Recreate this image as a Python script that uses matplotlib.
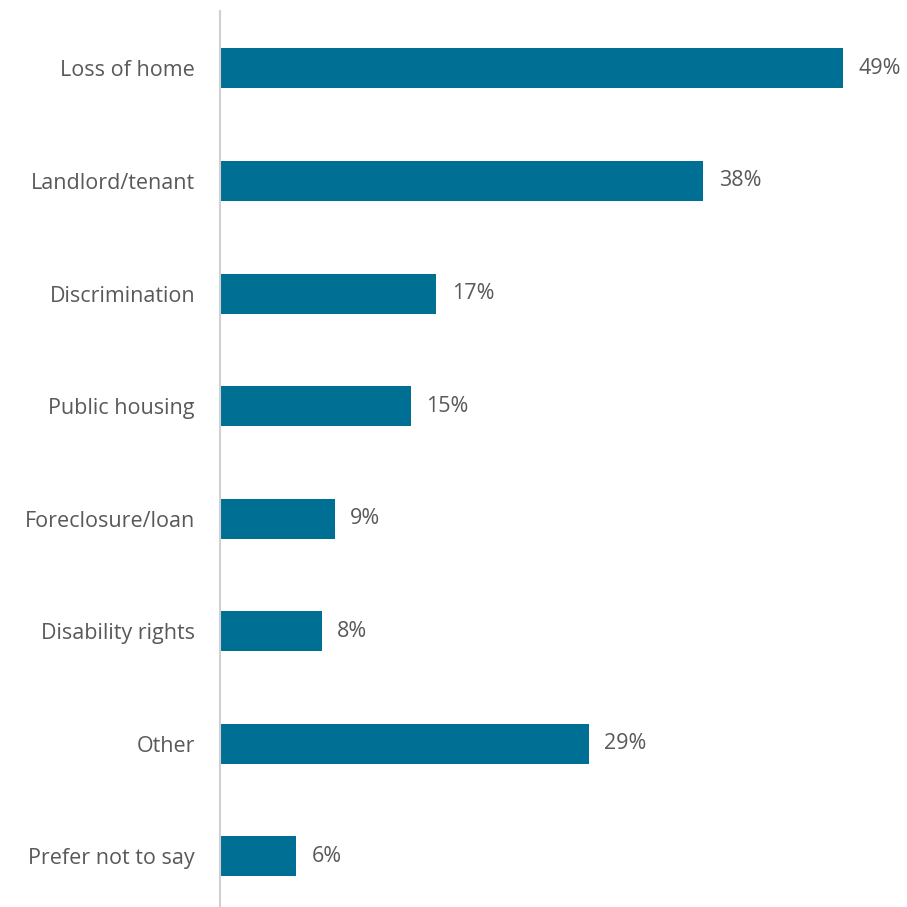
import matplotlib
matplotlib.use("Agg")
import matplotlib.pyplot as plt

categories = ["Loss of home", "Landlord/tenant", "Discrimination", "Public housing",
              "Foreclosure/loan", "Disability rights", "Other", "Prefer not to say"]
values = [49, 38, 17, 15, 9, 8, 29, 6]

plt.rcParams['font.family'] = ['Open Sans', 'DejaVu Sans']
text_color = '#595959'
bar_color = '#006f94'

fig = plt.figure(figsize=(9.07, 9.07), dpi=100)
ax = fig.add_axes([220/907, 0, 1 - 220/907, (907 - 11)/907])

pos = list(range(len(categories)))
ax.barh(pos, values, height=0.355, color=bar_color)
for p, v in zip(pos, values):
    ax.annotate(f"{v}%", xy=(v, p), xytext=(11, 0), textcoords='offset points',
                va='center', ha='left', fontsize=15.5, color=text_color)

ax.set_xlim(0, 54)
ax.set_ylim(7.45, -0.51)
ax.set_yticks(pos)
ax.set_yticklabels(categories, fontsize=15.5, color=text_color)
ax.tick_params(axis='y', length=0, pad=18)
ax.set_xticks([])
for s in ['top', 'right', 'bottom']:
    ax.spines[s].set_visible(False)
ax.spines['left'].set_color('#d0d0d0')
ax.spines['left'].set_linewidth(1.5)

fig.savefig('out.png', dpi=100)
